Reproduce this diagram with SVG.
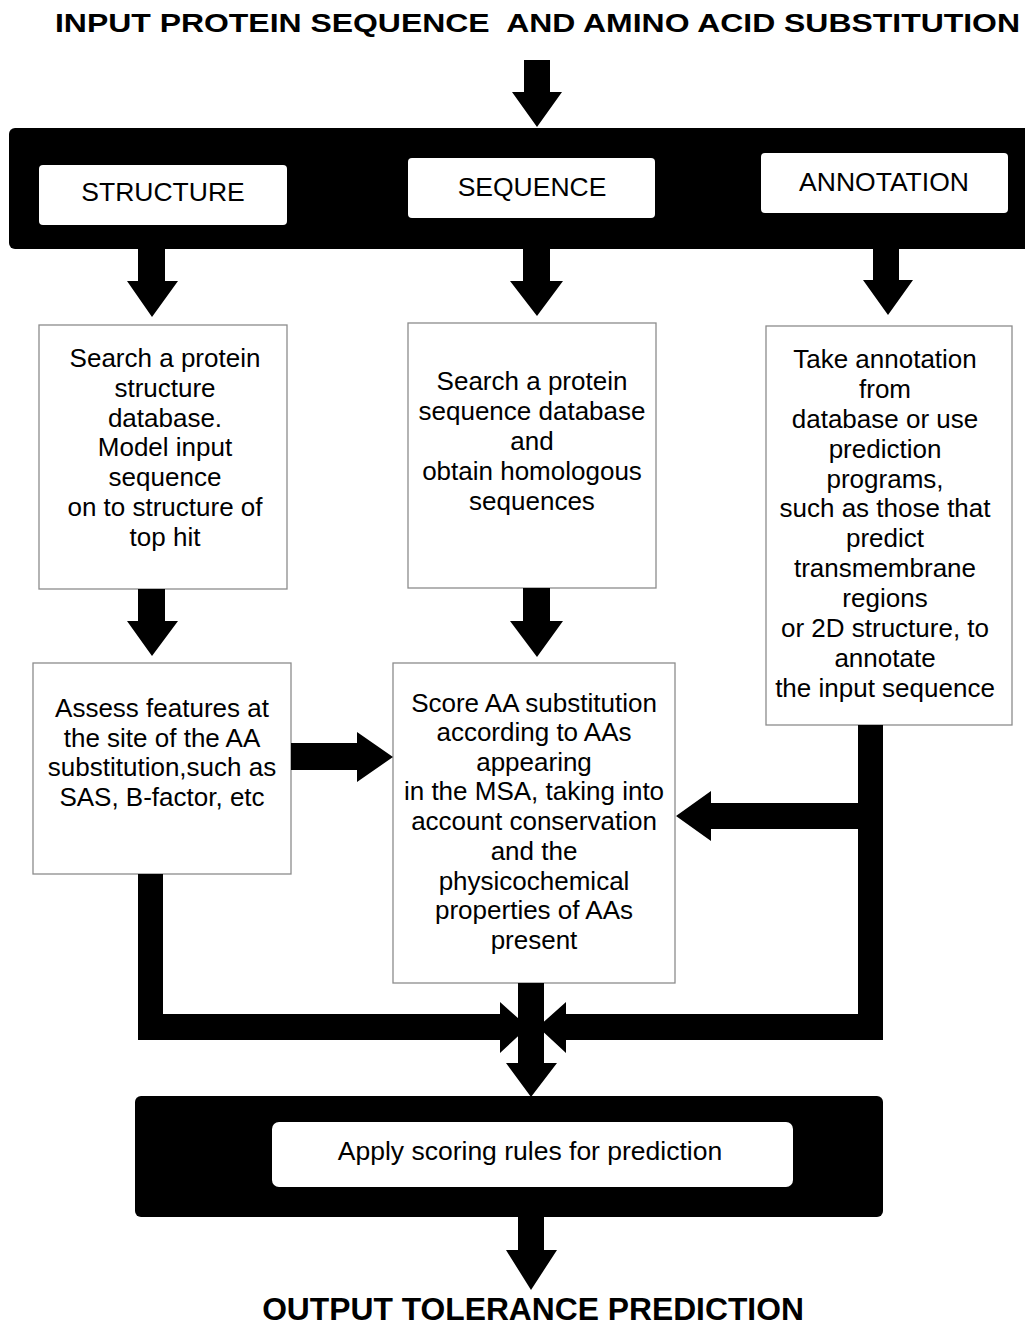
<svg xmlns="http://www.w3.org/2000/svg" width="1025" height="1326" viewBox="0 0 1025 1326">
<style>
.t{font-family:"Liberation Sans",Arial,sans-serif;font-size:26px;fill:#000;text-anchor:middle}
.h{font-family:"Liberation Sans",Arial,sans-serif;font-size:26.5px;fill:#000;text-anchor:middle}
.title{font-family:"Liberation Sans",Arial,sans-serif;font-weight:bold;fill:#000}
.box{fill:#fff;stroke:#8c8c8c;stroke-width:1.3}
.bar{fill:#000}
.wb{fill:#fff}
.arr{fill:#000}
</style>
<rect width="1025" height="1326" fill="#fff"/>
<text class="title" x="55" y="32" font-size="26" textLength="965" lengthAdjust="spacingAndGlyphs">INPUT PROTEIN SEQUENCE&#160; AND AMINO ACID SUBSTITUTION</text>
<g id="top-bar">
<rect class="bar" x="9" y="128" width="1030" height="121" rx="6"/>
</g>
<g id="structure-header">
<rect class="wb" x="39" y="165" width="248" height="60" rx="4"/>
<text class="h" x="163" y="201">STRUCTURE</text>
</g>
<g id="sequence-header">
<rect class="wb" x="408" y="158" width="247" height="60" rx="4"/>
<text class="h" x="532" y="196">SEQUENCE</text>
</g>
<g id="annotation-header">
<rect class="wb" x="761" y="153" width="247" height="60" rx="4"/>
<text class="h" x="884" y="191">ANNOTATION</text>
</g>
<g id="structure-search">
<rect class="box" x="39" y="325" width="248" height="264"/>
<text class="t" x="165"><tspan x="165" y="367">Search a protein</tspan><tspan x="165" y="397">structure</tspan><tspan x="165" y="427">database.</tspan><tspan x="165" y="456">Model input</tspan><tspan x="165" y="486">sequence</tspan><tspan x="165" y="516">on to structure of</tspan><tspan x="165" y="546">top hit</tspan></text>
</g>
<g id="sequence-search">
<rect class="box" x="408" y="323" width="248" height="265"/>
<text class="t" x="532"><tspan x="532" y="390">Search a protein</tspan><tspan x="532" y="420">sequence database</tspan><tspan x="532" y="450">and</tspan><tspan x="532" y="480">obtain homologous</tspan><tspan x="532" y="510">sequences</tspan></text>
</g>
<g id="annotation-take">
<rect class="box" x="766" y="326" width="246" height="399"/>
<text class="t" x="885"><tspan x="885" y="368">Take annotation</tspan><tspan x="885" y="398">from</tspan><tspan x="885" y="428">database or use</tspan><tspan x="885" y="458">prediction</tspan><tspan x="885" y="488">programs,</tspan><tspan x="885" y="517">such as those that</tspan><tspan x="885" y="547">predict</tspan><tspan x="885" y="577">transmembrane</tspan><tspan x="885" y="607">regions</tspan><tspan x="885" y="637">or 2D structure, to</tspan><tspan x="885" y="667">annotate</tspan><tspan x="885" y="697">the input sequence</tspan></text>
</g>
<g id="assess">
<rect class="box" x="33" y="663" width="258" height="211"/>
<text class="t" x="162"><tspan x="162" y="717">Assess features at</tspan><tspan x="162" y="747">the site of the AA</tspan><tspan x="162" y="776">substitution,such as</tspan><tspan x="162" y="806">SAS, B-factor, etc</tspan></text>
</g>
<g id="score">
<rect class="box" x="393" y="663" width="282" height="320"/>
<text class="t" x="534"><tspan x="534" y="712">Score AA substitution</tspan><tspan x="534" y="741">according to AAs</tspan><tspan x="534" y="771">appearing</tspan><tspan x="534" y="800">in the MSA, taking into</tspan><tspan x="534" y="830">account conservation</tspan><tspan x="534" y="860">and the</tspan><tspan x="534" y="890">physicochemical</tspan><tspan x="534" y="919">properties of AAs</tspan><tspan x="534" y="949">present</tspan></text>
</g>
<g id="bottom-bar">
<rect class="bar" x="135" y="1096" width="748" height="121" rx="6"/>
<rect class="wb" x="272" y="1122" width="521" height="65" rx="7"/>
<text class="h" x="530" y="1160">Apply scoring rules for prediction</text>
</g>
<g id="connectors">
<polygon class="arr" points="524,60 550,60 550,92 562,92 537,127 512,92 524,92"/>
<polygon class="arr" points="138,248 165,248 165,281 178,281 152,317 127,281 138,281"/>
<polygon class="arr" points="523,248 550,248 550,281 563,281 537,316 510,281 523,281"/>
<polygon class="arr" points="873,248 899,248 899,280 913,280 888,315 863,280 873,280"/>
<polygon class="arr" points="138,589 165,589 165,621 178,621 152,656 127,621 138,621"/>
<polygon class="arr" points="523,588 550,588 550,621 563,621 537,657 510,621 523,621"/>
<polygon class="arr" points="291,743 357,743 357,732 393,757 357,782 357,770 291,770"/>
<polygon class="arr" points="858,725 883,725 883,1040 858,1040 858,829 711,829 711,841 676,816 711,791 711,803 858,803"/>
<polygon class="arr" points="138,874 163,874 163,1014 500,1014 500,1002 528,1027 500,1053 500,1040 138,1040"/>
<polygon class="arr" points="883,1014 883,1040 566,1040 566,1053 538,1027 566,1002 566,1014"/>
<polygon class="arr" points="518,983 544,983 544,1063 557,1063 531,1097 506,1063 518,1063"/>
<polygon class="arr" points="518,1216 544,1216 544,1250 557,1250 531,1290 506,1250 518,1250"/>
</g>
<text class="title" x="533" y="1320" font-size="31.8" text-anchor="middle">OUTPUT TOLERANCE PREDICTION</text>
</svg>
